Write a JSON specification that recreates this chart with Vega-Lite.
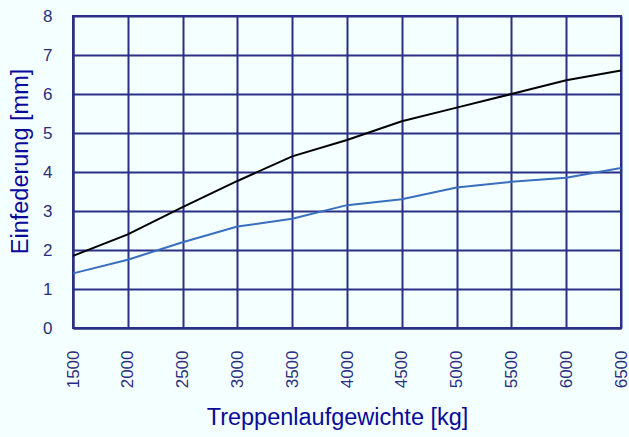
{
  "$schema": "https://vega.github.io/schema/vega-lite/v6.json",
  "autosize": "none",
  "width": 548,
  "height": 312,
  "padding": {"left": 73, "top": 16, "right": 8, "bottom": 109},
  "background": "#F4FFFF",
  "config": {
    "view": {"stroke": "#2B2F86", "strokeWidth": 2},
    "font": "Liberation Sans"
  },
  "data": {"values": [
    {"w": 1500, "y": 1.85, "s": "a"}, {"w": 2000, "y": 2.4, "s": "a"}, {"w": 2500, "y": 3.1, "s": "a"},
    {"w": 3000, "y": 3.77, "s": "a"}, {"w": 3500, "y": 4.4, "s": "a"}, {"w": 4000, "y": 4.82, "s": "a"},
    {"w": 4500, "y": 5.3, "s": "a"}, {"w": 5000, "y": 5.65, "s": "a"}, {"w": 5500, "y": 6.0, "s": "a"},
    {"w": 6000, "y": 6.35, "s": "a"}, {"w": 6500, "y": 6.6, "s": "a"},
    {"w": 1500, "y": 1.4, "s": "b"}, {"w": 2000, "y": 1.75, "s": "b"}, {"w": 2500, "y": 2.2, "s": "b"},
    {"w": 3000, "y": 2.6, "s": "b"}, {"w": 3500, "y": 2.8, "s": "b"}, {"w": 4000, "y": 3.15, "s": "b"},
    {"w": 4500, "y": 3.3, "s": "b"}, {"w": 5000, "y": 3.6, "s": "b"}, {"w": 5500, "y": 3.75, "s": "b"},
    {"w": 6000, "y": 3.85, "s": "b"}, {"w": 6500, "y": 4.1, "s": "b"}
  ]},
  "mark": {"type": "line", "strokeWidth": 2},
  "encoding": {
    "x": {"field": "w", "type": "quantitative", "scale": {"domain": [1500, 6500], "nice": false},
      "axis": {"values": [1500,2000,2500,3000,3500,4000,4500,5000,5500,6000,6500], "format": "d",
        "labelAngle": -90, "labelAlign": "right", "labelBaseline": "middle", "labelPadding": 22,
        "labelFontSize": 17, "labelColor": "#2A2E7E", "ticks": false,
        "grid": true, "gridColor": "#2B2F86", "gridWidth": 2, "gridOpacity": 1,
        "domainColor": "#2B2F86", "domainWidth": 2,
        "title": "Treppenlaufgewichte [kg]", "titleFontSize": 23.5, "titleFontWeight": "normal",
        "titleColor": "#0A0A9A", "titlePadding": 18, "titleX": 264, "titleAnchor": "start", "titleAlign": "center"}},
    "y": {"field": "y", "type": "quantitative", "scale": {"domain": [0, 8], "nice": false},
      "axis": {"values": [0,1,2,3,4,5,6,7,8], "labelFontSize": 17, "labelColor": "#2A2E7E",
        "labelPadding": 21, "ticks": false,
        "grid": true, "gridColor": "#2B2F86", "gridWidth": 2, "gridOpacity": 1,
        "domainColor": "#2B2F86", "domainWidth": 2,
        "title": "Einfederung [mm]", "titleFontSize": 23.5, "titleFontWeight": "normal",
        "titleColor": "#0A0A9A", "titlePadding": 10, "titleY": 145, "titleAlign": "center"}},
    "color": {"field": "s", "type": "nominal", "scale": {"domain": ["a", "b"], "range": ["#000000", "#3A6EBF"]}, "legend": null}
  }
}
